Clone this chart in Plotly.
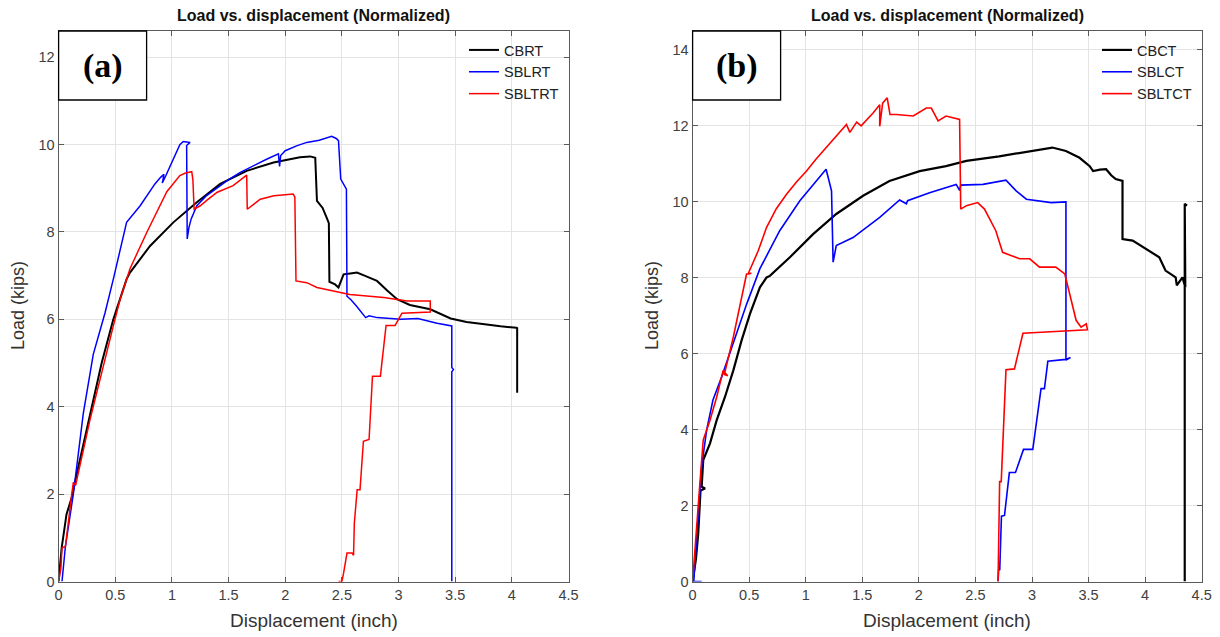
import plotly.graph_objects as go

# The page is drawn with an 8 px body margin, so the figure is sized to the visible area
OFF = 8
W, H = 1220 - OFF, 637 - OFF

# ---------------- Panel (a) data ----------------
cbrt_x = [0, 0.027, 0.07, 0.116, 0.16, 0.277, 0.38, 0.483, 0.543, 0.60, 0.63, 0.807, 1.013, 1.22, 1.426,
          1.66, 1.897, 2.13, 2.22, 2.265, 2.28, 2.33, 2.37, 2.385, 2.39, 2.44, 2.47, 2.49, 2.515, 2.574,
          2.633, 2.70, 2.81, 2.90, 2.987, 3.10, 3.28, 3.46, 3.60, 3.76, 3.90, 4.04, 4.047, 4.047]
cbrt_y = [0, 0.77, 1.54, 1.92, 2.46, 3.85, 5.0, 6.0, 6.46, 6.92, 7.07, 7.68, 8.22, 8.68, 9.10,
          9.40, 9.59, 9.71, 9.73, 9.70, 8.71, 8.55, 8.30, 8.20, 6.86, 6.80, 6.73, 6.85, 7.03, 7.05,
          7.07, 7.00, 6.88, 6.66, 6.46, 6.33, 6.23, 6.02, 5.94, 5.89, 5.84, 5.81, 5.80, 4.32]

sblrt_x = [0.03, 0.06, 0.13, 0.218, 0.306, 0.41, 0.483, 0.60, 0.72, 0.85, 0.90, 0.93, 0.915, 0.945,
           1.07, 1.10, 1.16, 1.13, 1.135, 1.15, 1.17, 1.22, 1.30, 1.40, 1.50, 1.60, 1.72, 1.84, 1.94,
           1.95, 1.96, 2.0, 2.10, 2.19, 2.30, 2.41, 2.45, 2.47, 2.49, 2.54, 2.545, 2.58, 2.63, 2.71,
           2.74, 2.81, 3.02, 3.17, 3.34, 3.47, 3.47, 3.485, 3.47, 3.47]
sblrt_y = [0, 0.8, 2.0, 3.85, 5.2, 6.15, 6.92, 8.22, 8.6, 9.1, 9.25, 9.32, 9.12, 9.28,
           10.0, 10.07, 10.05, 9.98, 7.84, 8.1, 8.3, 8.6, 8.82, 9.02, 9.2, 9.36, 9.52, 9.67, 9.79,
           9.5, 9.75, 9.86, 9.97, 10.05, 10.1, 10.19, 10.14, 10.09, 9.21, 8.98, 6.53, 6.45, 6.3, 6.04,
           6.08, 6.04, 6.0, 6.02, 5.91, 5.85, 4.9, 4.85, 4.8, 0]

sbltrt_x = [0, 0.02, 0.03, 0.06, 0.116, 0.13, 0.15, 0.277, 0.483, 0.543, 0.60, 0.63, 0.78, 0.955,
            1.07, 1.12, 1.175, 1.185, 1.196, 1.25, 1.31, 1.40, 1.54, 1.66, 1.665, 1.78, 1.90, 2.07,
            2.085, 2.095, 2.19, 2.28, 2.57, 2.87, 3.075, 3.28, 3.28, 3.03, 2.97, 2.89, 2.84, 2.77,
            2.74, 2.69, 2.66, 2.635, 2.61, 2.603, 2.59, 2.545, 2.515, 2.50, 2.47]
sbltrt_y = [0, 0.3, 0.77, 0.8, 2.0, 2.27, 2.2, 3.7, 5.85, 6.46, 6.92, 7.16, 8.0, 8.92,
            9.29, 9.35, 9.38, 9.2, 8.52, 8.6, 8.73, 8.91, 9.06, 9.3, 8.52, 8.75, 8.83, 8.87,
            8.8, 6.88, 6.84, 6.73, 6.57, 6.5, 6.42, 6.42, 6.17, 6.14, 5.86, 5.86, 4.7, 4.7,
            3.25, 3.21, 2.1, 2.1, 1.34, 0.6, 0.65, 0.65, 0.19, 0, 0]

# ---------------- Panel (b) data ----------------
cbct_x = [0, 0.03, 0.05, 0.07, 0.11, 0.08, 0.094, 0.154, 0.213, 0.286, 0.36, 0.433, 0.507, 0.566,
          0.595, 0.654, 0.683, 0.86, 1.065, 1.27, 1.507, 1.74, 2.007, 2.24, 2.42, 2.71, 3.007, 3.18,
          3.30, 3.42, 3.51, 3.54, 3.60, 3.655, 3.70, 3.74, 3.80, 3.80, 3.89, 4.01, 4.125, 4.18, 4.27,
          4.28, 4.33, 4.355, 4.35, 4.37, 4.35, 4.35]
cbct_y = [0, 0.6, 1.28, 2.4, 2.45, 2.5, 3.2, 3.64, 4.25, 4.86, 5.56, 6.35, 7.05, 7.49,
          7.75, 8.01, 8.05, 8.54, 9.15, 9.68, 10.16, 10.55, 10.81, 10.94, 11.08, 11.2, 11.34, 11.43,
          11.34, 11.16, 10.94, 10.81, 10.85, 10.86, 10.7, 10.6, 10.55, 9.02, 8.98, 8.76, 8.54, 8.19, 8.01,
          7.8, 8.01, 7.75, 9.95, 9.9, 9.95, 0]

sblct_x = [0.08, 0.01, 0.03, 0.05, 0.08, 0.124, 0.18, 0.257, 0.36, 0.477, 0.595, 0.77, 0.948, 1.124,
           1.18, 1.228, 1.242, 1.27, 1.418, 1.654, 1.83, 1.89, 1.90, 2.095, 2.33, 2.36, 2.37, 2.566,
           2.77, 2.86, 2.95, 3.17, 3.30, 3.30, 3.34, 3.30, 3.14, 3.11, 3.08, 3.007, 2.925, 2.854, 2.80,
           2.757, 2.73, 2.715, 2.705, 2.70]
sblct_y = [0, 0, 0.9, 1.71, 3.03, 3.99, 4.78, 5.39, 6.27, 7.3, 8.24, 9.24, 10.03, 10.64,
           10.86, 10.29, 8.41, 8.85, 9.06, 9.59, 10.05, 9.95, 10.03, 10.24, 10.46, 10.3, 10.44, 10.46,
           10.57, 10.29, 10.07, 9.98, 10.0, 5.83, 5.9, 5.85, 5.8, 5.08, 5.08, 3.48, 3.48, 2.87, 2.87,
           1.74, 1.72, 0.31, 0.3, 0]

sbltct_x = [0, 0.03, 0.06, 0.094, 0.154, 0.213, 0.27, 0.31, 0.28, 0.36, 0.477, 0.52, 0.49, 0.58,
            0.654, 0.74, 0.83, 0.92, 1.007, 1.09, 1.18, 1.27, 1.36, 1.39, 1.45, 1.49, 1.595, 1.654, 1.654,
            1.68, 1.72, 1.745, 1.80, 1.95, 2.066, 2.11, 2.17, 2.24, 2.36, 2.37, 2.42, 2.52, 2.58, 2.68,
            2.74, 2.89, 2.98, 3.066, 3.21, 3.29, 3.33, 3.39, 3.434, 3.48, 3.49, 2.92, 2.845, 2.77, 2.728,
            2.714, 2.70]
sbltct_y = [0, 1.28, 2.41, 3.73, 4.25, 4.86, 5.56, 5.42, 5.45, 6.44, 8.1, 8.12, 8.1, 8.71,
            9.33, 9.82, 10.2, 10.53, 10.81, 11.12, 11.43, 11.75, 12.04, 11.83, 12.1, 12.0, 12.34, 12.56, 11.99,
            12.6, 12.74, 12.3, 12.3, 12.26, 12.47, 12.47, 12.13, 12.26, 12.17, 9.81, 9.9, 9.98, 9.81, 9.24,
            8.67, 8.5, 8.5, 8.28, 8.28, 8.1, 7.58, 6.88, 6.7, 6.79, 6.63, 6.54, 5.6, 5.58, 2.63,
            2.63, 0]

x_ticks = [0, 0.5, 1, 1.5, 2, 2.5, 3, 3.5, 4, 4.5]
x_tick_text = ["0", "0.5", "1", "1.5", "2", "2.5", "3", "3.5", "4", "4.5"]
ya_ticks = [0, 2, 4, 6, 8, 10, 12]
yb_ticks = [0, 2, 4, 6, 8, 10, 12, 14]

title_text = "Load vs. displacement (Normalized)"

BLACK, BLUE, RED = "#000000", "#0000ff", "#ff0000"

fig = go.Figure()
fig.add_trace(go.Scatter(x=cbrt_x, y=cbrt_y, mode="lines", name="CBRT",
                         line=dict(color=BLACK, width=2), xaxis="x", yaxis="y", legend="legend"))
fig.add_trace(go.Scatter(x=sblrt_x, y=sblrt_y, mode="lines", name="SBLRT",
                         line=dict(color=BLUE, width=1.5), xaxis="x", yaxis="y", legend="legend"))
fig.add_trace(go.Scatter(x=sbltrt_x, y=sbltrt_y, mode="lines", name="SBLTRT",
                         line=dict(color=RED, width=1.5), xaxis="x", yaxis="y", legend="legend"))
fig.add_trace(go.Scatter(x=cbct_x, y=cbct_y, mode="lines", name="CBCT",
                         line=dict(color=BLACK, width=2.2), xaxis="x2", yaxis="y2", legend="legend2"))
fig.add_trace(go.Scatter(x=sblct_x, y=sblct_y, mode="lines", name="SBLCT",
                         line=dict(color=BLUE, width=1.6), xaxis="x2", yaxis="y2", legend="legend2"))
fig.add_trace(go.Scatter(x=sbltct_x, y=sbltct_y, mode="lines", name="SBLTCT",
                         line=dict(color=RED, width=1.6), xaxis="x2", yaxis="y2", legend="legend2"))

FONT = "Liberation Sans, Arial, sans-serif"
AXC = "#5a5a5a"

# helpers: screenshot pixel -> paper fraction
def px_x(p):
    return (p - OFF) / W

def px_y(p):
    return 1 - (p - OFF) / H

top_px, bot_px = 31, 581.5
ydom = [px_y(bot_px), px_y(top_px)]
xa_px = (58.6, 568.5)
xb_px = (692.6, 1201.7)
xa_dom = [px_x(xa_px[0]), px_x(xa_px[1])]
xb_dom = [px_x(xb_px[0]), px_x(xb_px[1])]

def xaxis(dom, anchor):
    return dict(domain=dom, anchor=anchor, range=[0, 4.5], tickvals=x_ticks, ticktext=x_tick_text,
                showgrid=True, gridcolor="#e4e4e4", gridwidth=1, zeroline=False,
                showline=True, linecolor=AXC, linewidth=1, mirror="ticks",
                ticks="inside", ticklen=5, tickcolor=AXC, tickwidth=1, automargin=False,
                tickfont=dict(family=FONT, size=14.5, color="#404040"))

def yaxis(rng, tv, anchor):
    return dict(domain=ydom, anchor=anchor, range=rng, tickvals=tv,
                showgrid=True, gridcolor="#e4e4e4", gridwidth=1, zeroline=False,
                showline=True, linecolor=AXC, linewidth=1, mirror="ticks",
                ticks="inside", ticklen=5, tickcolor=AXC, tickwidth=1, automargin=False,
                tickfont=dict(family=FONT, size=14.5, color="#404040"))

leg_common = dict(bgcolor="rgba(0,0,0,0)", borderwidth=0, xanchor="right", yanchor="top",
                  font=dict(family=FONT, size=14.5, color="#222"), itemwidth=30, tracegroupgap=0)

fig.update_layout(
    width=W, height=H,
    margin=dict(l=0, r=0, t=0, b=0, pad=0, autoexpand=False),
    paper_bgcolor="white", plot_bgcolor="white",
    showlegend=True,
    xaxis=xaxis(xa_dom, "y"),
    yaxis=yaxis([0, 12.6], ya_ticks, "x"),
    xaxis2=xaxis(xb_dom, "y2"),
    yaxis2=yaxis([0, 14.5], yb_ticks, "x2"),
    legend=dict(x=px_x(564), y=px_y(34), **leg_common),
    legend2=dict(x=px_x(1197), y=px_y(34), **leg_common),
)

annotations = []
shapes = []
for xpx, lab, ylab_x in ((xa_px, "(a)", 18), (xb_px, "(b)", 652)):
    cx = px_x((xpx[0] + xpx[1]) / 2)
    annotations.append(dict(text="<b>" + title_text + "</b>", x=cx, y=px_y(15), xref="paper", yref="paper",
                            xanchor="center", yanchor="middle", showarrow=False,
                            font=dict(family=FONT, size=16, color="#111")))
    annotations.append(dict(text="Displacement (inch)", x=cx, y=px_y(620), xref="paper", yref="paper",
                            xanchor="center", yanchor="middle", showarrow=False,
                            font=dict(family=FONT, size=19, color="#333")))
    annotations.append(dict(text="Load (kips)", x=px_x(ylab_x), y=px_y(306), xref="paper", yref="paper",
                            xanchor="center", yanchor="middle", showarrow=False, textangle=-90,
                            font=dict(family=FONT, size=18, color="#333")))
    shapes.append(dict(type="rect", xref="paper", yref="paper", x0=px_x(xpx[0]), x1=px_x(xpx[0] + 88),
                       y0=px_y(100), y1=px_y(top_px), line=dict(color="black", width=1.3),
                       fillcolor="white", layer="above"))
    annotations.append(dict(text="<b>" + lab + "</b>", x=px_x(xpx[0] + 44), y=px_y(66), xref="paper",
                            yref="paper", xanchor="center", yanchor="middle", showarrow=False,
                            font=dict(family="Liberation Serif, Times New Roman, serif", size=34, color="black")))

fig.update_layout(annotations=annotations, shapes=shapes)
fig.write_html("out.html")
